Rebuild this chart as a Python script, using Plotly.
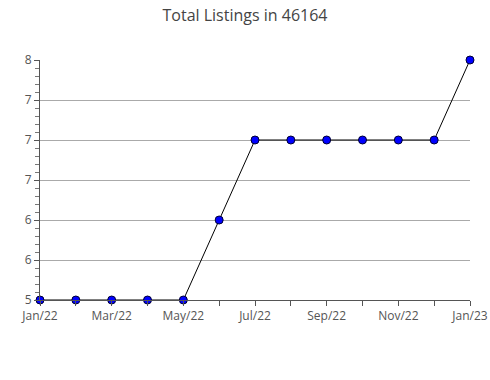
import plotly.graph_objects as go

months = ["Jan/22", "Feb/22", "Mar/22", "Apr/22", "May/22", "Jun/22", "Jul/22",
          "Aug/22", "Sep/22", "Oct/22", "Nov/22", "Dec/22", "Jan/23"]
listings = [5, 5, 5, 5, 5, 6, 7, 7, 7, 7, 7, 7, 8]
y_tickvals = [5, 5.5, 6, 6.5, 7, 7.5, 8]
y_ticktext = ["5", "6", "6", "7", "7", "7", "8"]

x_idx = list(range(len(months)))
x_labels = [m if i % 2 == 0 else "" for i, m in enumerate(months)]

fig = go.Figure()
fig.add_trace(go.Scatter(
    x=x_idx, y=listings, mode="lines+markers",
    line=dict(color="black", width=1),
    marker=dict(symbol="circle", size=8, color="#0000ff",
                line=dict(color="#000033", width=1)),
    cliponaxis=False, hoverinfo="x+y",
))

fig.update_layout(
    width=490, height=380,
    margin=dict(l=40, r=20, t=60, b=80),
    paper_bgcolor="white", plot_bgcolor="white",
    showlegend=False,
    title=dict(text="Total Listings in 46164", x=0.5, xanchor="center",
               y=1 - 15 / 380, yanchor="middle",
               font=dict(family="Open Sans", size=16, color="#444444")),
    font=dict(family="Open Sans", size=12, color="#555555"),
)
fig.update_xaxes(
    range=[0, 12], tickvals=x_idx, ticktext=x_labels, automargin=False,
    showgrid=False, zeroline=False,
    showline=True, linecolor="#555555", linewidth=1,
    ticks="outside", ticklen=5, tickcolor="#555555",
    tickfont=dict(size=12, color="#555555"),
)
fig.update_yaxes(
    range=[5, 8], tickvals=y_tickvals, ticktext=y_ticktext, automargin=False,
    showgrid=True, gridcolor="#aaaaaa", gridwidth=1, zeroline=False,
    showline=True, linecolor="#555555", linewidth=1,
    ticks="outside", ticklen=5, tickcolor="#555555",
    tickfont=dict(size=12, color="#555555"),
    minor=dict(dtick=0.1, tick0=5, ticks="outside", ticklen=4,
               tickcolor="#777777", showgrid=False),
)

fig.write_html("out.html")
